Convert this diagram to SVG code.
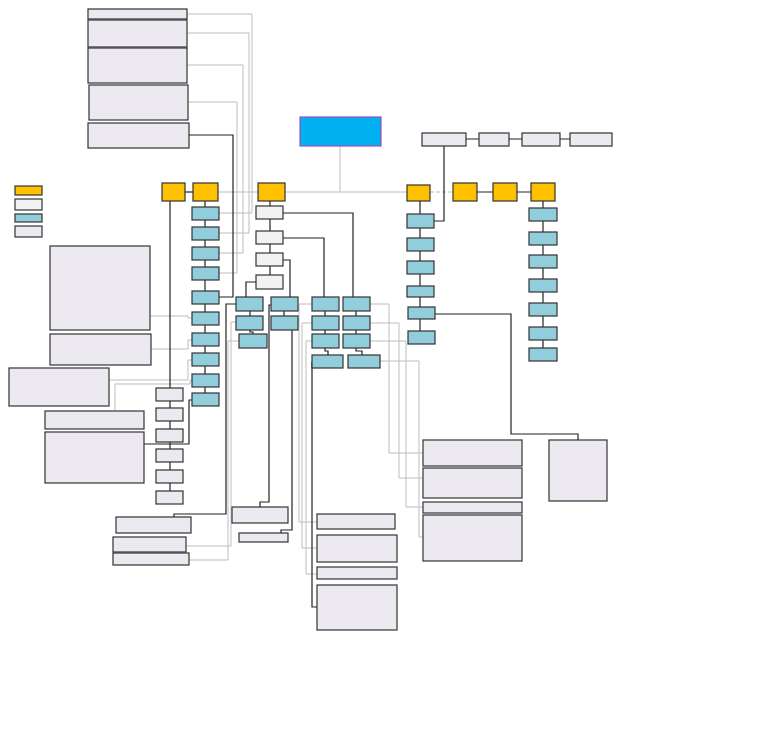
<svg xmlns="http://www.w3.org/2000/svg" width="768" height="732" viewBox="0 0 768 732">
<style>
rect{stroke:#333;stroke-width:1.2}
.bg{fill:#fff;stroke:none}
.y{fill:#ffc000}.w{fill:#f2f2f2}.b{fill:#92cddc}.l{fill:#ece9f1}.c{fill:#00b0f0;stroke:#9b4fc0}
.k{fill:none;stroke:#222;stroke-width:1.2}
.g{fill:none;stroke:#bdbdbd;stroke-width:1}
.d{fill:none;stroke:#bdbdbd;stroke-width:1;stroke-dasharray:4 2}
</style>
<rect class="bg" width="768" height="732"/>
<g id="connectors">
<path class="g" d="M187,14 H252 V213 H219"/>
<path class="g" d="M187,33 H249 V233 H219"/>
<path class="g" d="M187,65 H243 V253 H219"/>
<path class="g" d="M188,102 H237 V273 H219"/>
<path class="g" d="M218,192 H258"/>
<path class="g" d="M285,192 H407"/>
<path class="g" d="M340,146 V192"/>
<path class="d" d="M430,192 H453"/>
<path class="g" d="M150,316 H188 V318 H192"/>
<path class="g" d="M151,349 H188 V340 H192"/>
<path class="g" d="M109,380 H188 V360 H192"/>
<path class="g" d="M115,411 V384 H190 V380 H192"/>
<path class="g" d="M236,322 H231 V546 H186"/>
<path class="g" d="M239,341 H228 V560 H189"/>
<path class="g" d="M312,304 H299 V522 H317"/>
<path class="g" d="M312,323 H302 V548 H317"/>
<path class="g" d="M312,341 H306 V574 H317"/>
<path class="g" d="M370,304 H389 V453 H423"/>
<path class="g" d="M370,323 H399 V478 H423"/>
<path class="g" d="M370,341 H406 V507 H423"/>
<path class="g" d="M380,361 H419 V537 H423"/>
<path class="k" d="M185,192 H193"/>
<path class="k" d="M170,201 V491"/>
<path class="k" d="M205,201 V393"/>
<path class="k" d="M189,135 H233 V297 H219"/>
<path class="k" d="M192,400 H189 V444 H144"/>
<path class="k" d="M270,201 V275"/>
<path class="k" d="M283,213 H353 V297"/>
<path class="k" d="M283,238 H324 V297"/>
<path class="k" d="M283,260 H290 V297"/>
<path class="k" d="M256,282 H246 V297"/>
<path class="k" d="M250,311 V316 M250,330 V332 H253 V334"/>
<path class="k" d="M284,311 V316"/>
<path class="k" d="M325,311 V334 M325,348 V351 H328 V355"/>
<path class="k" d="M356,311 V334 M356,348 V351 H362 V355"/>
<path class="k" d="M236,304 H226 V514 H174 V517"/>
<path class="k" d="M271,305 H269 V502 H260 V507"/>
<path class="k" d="M292,330 V530 H281 V533"/>
<path class="k" d="M312,362 V607 H317"/>
<path class="k" d="M420,201 V331"/>
<path class="k" d="M466,139 H479 M509,139 H522 M560,139 H570"/>
<path class="k" d="M444,146 V221 H434"/>
<path class="k" d="M477,192 H493 M517,192 H531"/>
<path class="k" d="M543,201 V348"/>
<path class="k" d="M435,314 H511 V434 H578 V440"/>
</g>
<g id="legend">
<rect class="y" x="15" y="186" width="27" height="9"/>
<rect class="w" x="15" y="199" width="27" height="11"/>
<rect class="b" x="15" y="214" width="27" height="8"/>
<rect class="l" x="15" y="226" width="27" height="11"/>
</g>
<g id="nA"><rect class="l" x="88" y="9" width="99" height="10"/></g>
<g id="nB"><rect class="l" x="88" y="20" width="99" height="27"/></g>
<g id="nC"><rect class="l" x="88" y="48" width="99" height="35"/></g>
<g id="nD"><rect class="l" x="89" y="85" width="99" height="35"/></g>
<g id="nE"><rect class="l" x="88" y="123" width="101" height="25"/></g>
<g id="cyan"><rect class="c" x="300" y="117" width="81" height="29"/></g>
<g id="Y1"><rect class="y" x="162" y="183" width="23" height="18"/></g>
<g id="Y2"><rect class="y" x="193" y="183" width="25" height="18"/></g>
<g id="Y3"><rect class="y" x="258" y="183" width="27" height="18"/></g>
<g id="Y4"><rect class="y" x="407" y="185" width="23" height="16"/></g>
<g id="Y5"><rect class="y" x="453" y="183" width="24" height="18"/></g>
<g id="Y6"><rect class="y" x="493" y="183" width="24" height="18"/></g>
<g id="Y7"><rect class="y" x="531" y="183" width="24" height="18"/></g>
<g id="R1"><rect class="l" x="422" y="133" width="44" height="13"/></g>
<g id="R2"><rect class="l" x="479" y="133" width="30" height="13"/></g>
<g id="R3"><rect class="l" x="522" y="133" width="38" height="13"/></g>
<g id="R4"><rect class="l" x="570" y="133" width="42" height="13"/></g>
<g id="b1"><rect class="b" x="192" y="207" width="27" height="13"/></g>
<g id="b2"><rect class="b" x="192" y="227" width="27" height="13"/></g>
<g id="b3"><rect class="b" x="192" y="247" width="27" height="13"/></g>
<g id="b4"><rect class="b" x="192" y="267" width="27" height="13"/></g>
<g id="b5"><rect class="b" x="192" y="291" width="27" height="13"/></g>
<g id="b6"><rect class="b" x="192" y="312" width="27" height="13"/></g>
<g id="b7"><rect class="b" x="192" y="333" width="27" height="13"/></g>
<g id="b8"><rect class="b" x="192" y="353" width="27" height="13"/></g>
<g id="b9"><rect class="b" x="192" y="374" width="27" height="13"/></g>
<g id="b10"><rect class="b" x="192" y="393" width="27" height="13"/></g>
<g id="w1"><rect class="w" x="256" y="206" width="27" height="13"/></g>
<g id="w2"><rect class="w" x="256" y="231" width="27" height="13"/></g>
<g id="w3"><rect class="w" x="256" y="253" width="27" height="13"/></g>
<g id="w4"><rect class="w" x="256" y="275" width="27" height="14"/></g>
<g id="c1a"><rect class="b" x="236" y="297" width="27" height="14"/></g>
<g id="c1b"><rect class="b" x="236" y="316" width="27" height="14"/></g>
<g id="c1c"><rect class="b" x="239" y="334" width="28" height="14"/></g>
<g id="c2a"><rect class="b" x="271" y="297" width="27" height="14"/></g>
<g id="c2b"><rect class="b" x="271" y="316" width="27" height="14"/></g>
<g id="c3a"><rect class="b" x="312" y="297" width="27" height="14"/></g>
<g id="c3b"><rect class="b" x="312" y="316" width="27" height="14"/></g>
<g id="c3c"><rect class="b" x="312" y="334" width="27" height="14"/></g>
<g id="c3d"><rect class="b" x="312" y="355" width="31" height="13"/></g>
<g id="c4a"><rect class="b" x="343" y="297" width="27" height="14"/></g>
<g id="c4b"><rect class="b" x="343" y="316" width="27" height="14"/></g>
<g id="c4c"><rect class="b" x="343" y="334" width="27" height="14"/></g>
<g id="c4d"><rect class="b" x="348" y="355" width="32" height="13"/></g>
<g id="e1"><rect class="b" x="407" y="214" width="27" height="14"/></g>
<g id="e2"><rect class="b" x="407" y="238" width="27" height="13"/></g>
<g id="e3"><rect class="b" x="407" y="261" width="27" height="13"/></g>
<g id="e4"><rect class="b" x="407" y="286" width="27" height="11"/></g>
<g id="e5"><rect class="b" x="408" y="307" width="27" height="12"/></g>
<g id="e6"><rect class="b" x="408" y="331" width="27" height="13"/></g>
<g id="f1"><rect class="b" x="529" y="208" width="28" height="13"/></g>
<g id="f2"><rect class="b" x="529" y="232" width="28" height="13"/></g>
<g id="f3"><rect class="b" x="529" y="255" width="28" height="13"/></g>
<g id="f4"><rect class="b" x="529" y="279" width="28" height="13"/></g>
<g id="f5"><rect class="b" x="529" y="303" width="28" height="13"/></g>
<g id="f6"><rect class="b" x="529" y="327" width="28" height="13"/></g>
<g id="f7"><rect class="b" x="529" y="348" width="28" height="13"/></g>
<g id="L1"><rect class="l" x="50" y="246" width="100" height="84"/></g>
<g id="L2"><rect class="l" x="50" y="334" width="101" height="31"/></g>
<g id="L3"><rect class="l" x="9" y="368" width="100" height="38"/></g>
<g id="L4"><rect class="l" x="45" y="411" width="99" height="18"/></g>
<g id="L5"><rect class="l" x="45" y="432" width="99" height="51"/></g>
<g id="l1"><rect class="l" x="156" y="388" width="27" height="13"/></g>
<g id="l2"><rect class="l" x="156" y="408" width="27" height="13"/></g>
<g id="l3"><rect class="l" x="156" y="429" width="27" height="13"/></g>
<g id="l4"><rect class="l" x="156" y="449" width="27" height="13"/></g>
<g id="l5"><rect class="l" x="156" y="470" width="27" height="13"/></g>
<g id="l6"><rect class="l" x="156" y="491" width="27" height="13"/></g>
<g id="N1"><rect class="l" x="116" y="517" width="75" height="16"/></g>
<g id="N2"><rect class="l" x="113" y="537" width="73" height="15"/></g>
<g id="N3"><rect class="l" x="113" y="553" width="76" height="12"/></g>
<g id="M1"><rect class="l" x="232" y="507" width="56" height="16"/></g>
<g id="M2"><rect class="l" x="239" y="533" width="49" height="9"/></g>
<g id="P1"><rect class="l" x="317" y="514" width="78" height="15"/></g>
<g id="P2"><rect class="l" x="317" y="535" width="80" height="27"/></g>
<g id="P3"><rect class="l" x="317" y="567" width="80" height="12"/></g>
<g id="P4"><rect class="l" x="317" y="585" width="80" height="45"/></g>
<g id="Q1"><rect class="l" x="423" y="440" width="99" height="26"/></g>
<g id="Q2"><rect class="l" x="423" y="468" width="99" height="30"/></g>
<g id="Q3"><rect class="l" x="423" y="502" width="99" height="11"/></g>
<g id="Q4"><rect class="l" x="423" y="515" width="99" height="46"/></g>
<g id="S"><rect class="l" x="549" y="440" width="58" height="61"/></g>
</svg>
